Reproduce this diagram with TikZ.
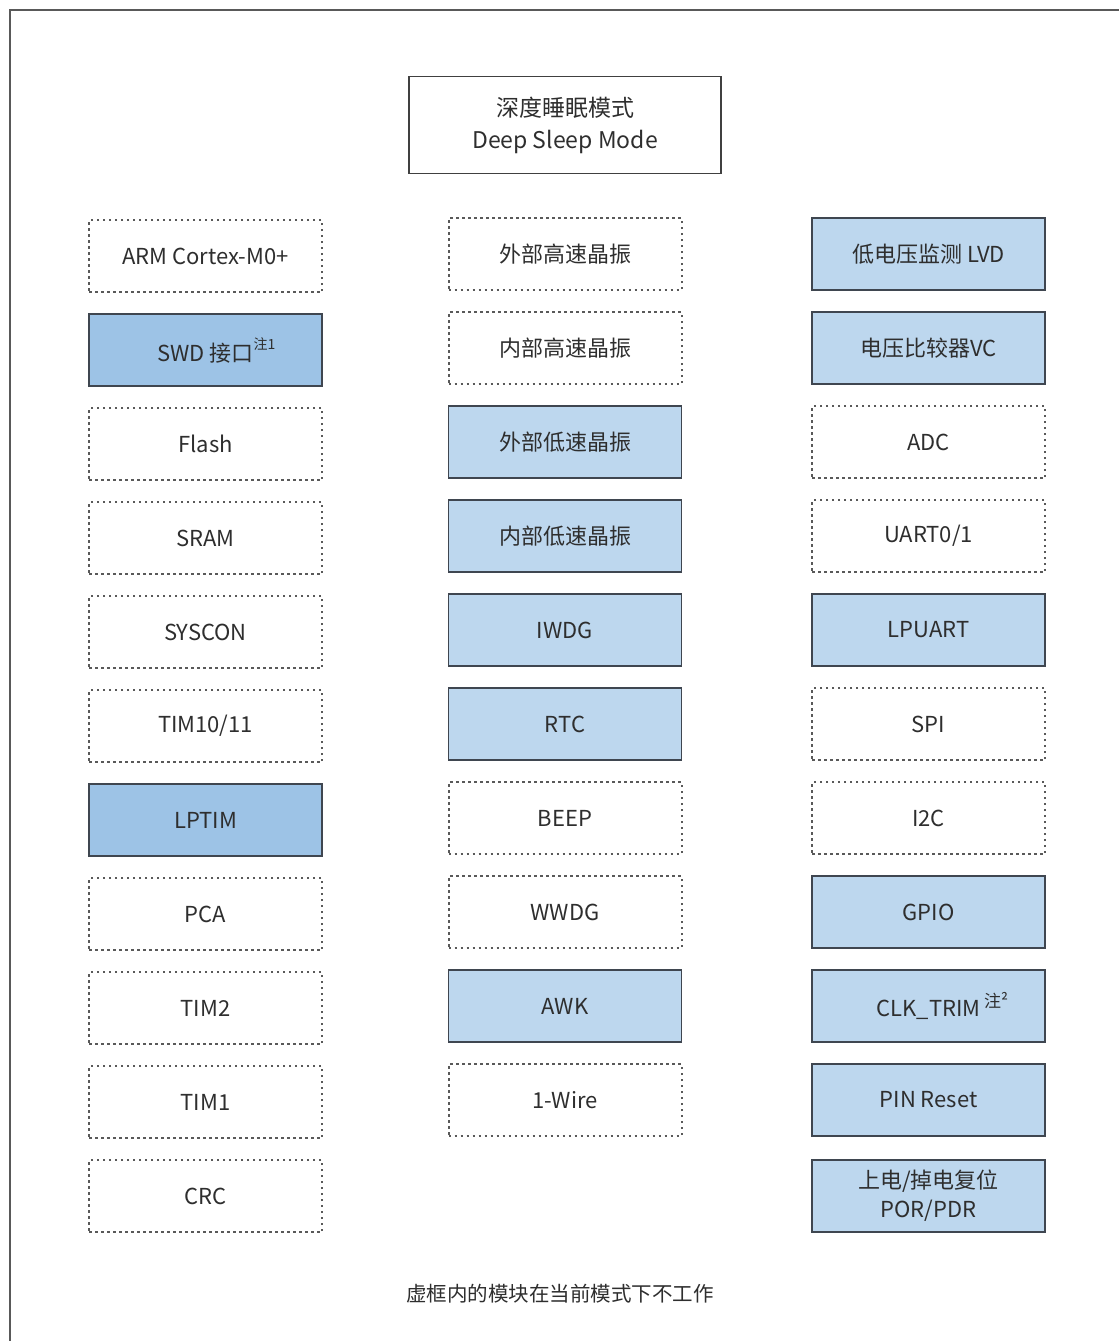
\documentclass[tikz,border=0pt]{standalone}
\usepackage{fontspec}
\setmainfont{Noto Sans CJK SC}
\definecolor{lblue}{HTML}{BDD7EE}
\definecolor{dblue}{HTML}{9DC3E6}
\definecolor{edge}{HTML}{3F4650}
\definecolor{txt}{HTML}{2E2E2E}
\begin{document}
\begin{tikzpicture}[x=1pt,y=-1pt,
  font=\fontsize{22}{26}\selectfont, text=txt,
  mod/.style={minimum width=233pt, minimum height=72pt, inner sep=0pt, align=center},
  off/.style={mod, draw=black!65, dash pattern=on 2.5pt off 3.5pt, line width=2pt},
  on/.style={mod, draw=edge, fill=lblue, line width=1.3pt},
  ondark/.style={mod, draw=edge, fill=dblue, line width=1.3pt}]
\useasboundingbox (0,0) rectangle (1119,1341);
\coordinate (tl) at (10,10);
\coordinate (bl) at (10,1341);
\coordinate (tr) at (1119,10);
\draw[line width=2pt, black!65] (bl) -- (tl) -- (tr);
\node[draw=black!75, line width=1.3pt, minimum width=312pt, minimum height=97pt, align=center, inner sep=0pt, font=\fontsize{23}{32}\selectfont] (mode) at (565,125) {深度睡眠模式\\Deep Sleep Mode};
% left column
\node[off] (l1) at (205.5,256) {ARM Cortex-M0+};
\node[ondark] (l2) at (205.5,350) {SWD 接口\rlap{\raisebox{12pt}{\fontsize{14}{14}\selectfont 注1}}};
\node[off] (l3) at (205.5,444) {Flash};
\node[off] (l4) at (205.5,538) {SRAM};
\node[off] (l5) at (205.5,632) {SYSCON};
\node[off] (l6) at (205.5,726) {TIM10/11};
\node[ondark] (l7) at (205.5,820) {LPTIM};
\node[off] (l8) at (205.5,914) {PCA};
\node[off] (l9) at (205.5,1008) {TIM2};
\node[off] (l10) at (205.5,1102) {TIM1};
\node[off] (l11) at (205.5,1196) {CRC};
% middle column
\node[off] (m1) at (565,254) {外部高速晶振};
\node[off] (m2) at (565,348) {内部高速晶振};
\node[on] (m3) at (565,442) {外部低速晶振};
\node[on] (m4) at (565,536) {内部低速晶振};
\node[on] (m5) at (565,630) {IWDG};
\node[on] (m6) at (565,724) {RTC};
\node[off] (m7) at (565,818) {BEEP};
\node[off] (m8) at (565,912) {WWDG};
\node[on] (m9) at (565,1006) {AWK};
\node[off] (m10) at (565,1100) {1-Wire};
% right column
\node[on] (r1) at (928.5,254) {低电压监测 LVD};
\node[on] (r2) at (928.5,348) {电压比较器VC};
\node[off] (r3) at (928.5,442) {ADC};
\node[off] (r4) at (928.5,536) {UART0/1};
\node[on] (r5) at (928.5,630) {LPUART};
\node[off] (r6) at (928.5,724) {SPI};
\node[off] (r7) at (928.5,818) {I2C};
\node[on] (r8) at (928.5,912) {GPIO};
\node[on] (r9) at (928.5,1006) {CLK\_TRIM\rlap{\,\raisebox{9pt}{\fontsize{17}{17}\selectfont 注²}}};
\node[on] (r10) at (928.5,1100) {PIN Reset};
\node[on, font=\fontsize{22}{29}\selectfont] (r11) at (928.5,1196) {上电/掉电复位\\POR/PDR};
\node[font=\fontsize{20.5}{24}\selectfont] (note) at (560,1294) {虚框内的模块在当前模式下不工作};
\end{tikzpicture}
\end{document}
